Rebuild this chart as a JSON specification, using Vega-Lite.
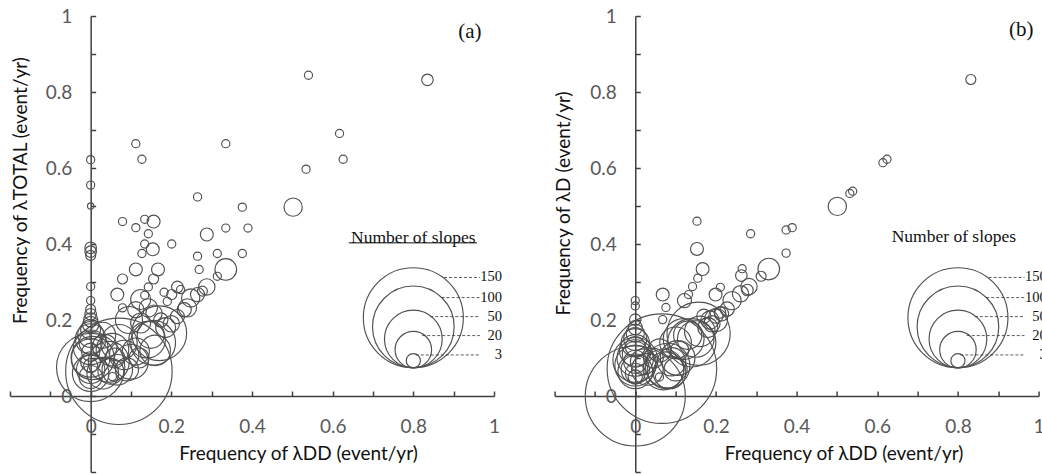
{
"$schema": "https://vega.github.io/schema/vega-lite/v6.json",
"autosize": {"type": "pad"},
"padding": {"left": 9, "top": 7, "right": 0, "bottom": 0},
"config": {"view": {"stroke": null}, "axis": {"grid": false, "domainColor": "#404040", "domainWidth": 1.5, "tickColor": "#404040", "tickWidth": 1.5, "labelFont": "Lato", "labelFontSize": 19, "labelColor": "#595959", "titleFont": "Lato", "titleFontSize": 19, "titleFontWeight": "normal", "titleColor": "#111111"}},
"datasets": {
"a": [
{"x":0.835,"y":0.832,"n":2},{"x":0.54,"y":0.844,"n":1},{"x":0.617,"y":0.691,"n":1},{"x":0.626,"y":0.623,"n":1},{"x":0.534,"y":0.597,"n":1},{"x":0.335,"y":0.664,"n":1},{"x":0.112,"y":0.664,"n":1},{"x":0.127,"y":0.623,"n":1},{"x":0.265,"y":0.524,"n":1},{"x":0.502,"y":0.497,"n":5},{"x":0.376,"y":0.497,"n":1},{"x":0.079,"y":0.459,"n":1},{"x":0.156,"y":0.459,"n":2.5},{"x":0.112,"y":0.443,"n":1},{"x":0.134,"y":0.465,"n":1},{"x":0.143,"y":0.427,"n":1},{"x":0.288,"y":0.425,"n":2.5},{"x":0.335,"y":0.442,"n":1},{"x":0.39,"y":0.442,"n":1},{"x":0.134,"y":0.4,"n":1},{"x":0.201,"y":0.4,"n":1},{"x":0.127,"y":0.375,"n":1},{"x":0.154,"y":0.386,"n":2.5},{"x":0.265,"y":0.368,"n":1},{"x":0.314,"y":0.375,"n":1},{"x":0.376,"y":0.375,"n":1},{"x":0.269,"y":0.333,"n":1},{"x":0.335,"y":0.333,"n":7},{"x":0.314,"y":0.315,"n":1},{"x":0.112,"y":0.333,"n":2.5},{"x":0.167,"y":0.333,"n":2.5},{"x":0.079,"y":0.308,"n":1.5},{"x":0.156,"y":0.308,"n":1.5},{"x":0.066,"y":0.267,"n":2.5},{"x":0.143,"y":0.287,"n":1},{"x":0.134,"y":0.265,"n":1},{"x":0.182,"y":0.273,"n":1},{"x":0.201,"y":0.267,"n":1.5},{"x":0.215,"y":0.287,"n":2},{"x":0.223,"y":0.28,"n":1},{"x":0.265,"y":0.267,"n":3},{"x":0.277,"y":0.276,"n":1.5},{"x":0.288,"y":0.287,"n":4},{"x":0.248,"y":0.258,"n":5},{"x":0.232,"y":0.227,"n":3},{"x":0.215,"y":0.209,"n":3},{"x":0.079,"y":0.232,"n":1},{"x":0.112,"y":0.227,"n":4},{"x":0.143,"y":0.232,"n":5},{"x":0.19,"y":0.249,"n":1},{"x":0.174,"y":0.2,"n":3},{"x":0.124,"y":0.254,"n":6},{"x":0.24,"y":0.232,"n":5},{"x":0.2,"y":0.19,"n":4},{"x":0.186,"y":0.18,"n":6},{"x":0.157,"y":0.218,"n":4},
{"x":0,"y":0.622,"n":1},{"x":0,"y":0.555,"n":1},{"x":0,"y":0.5,"n":0.6},{"x":0,"y":0.39,"n":2},{"x":0,"y":0.38,"n":2},{"x":0,"y":0.37,"n":1.5},{"x":0,"y":0.288,"n":1},{"x":0,"y":0.251,"n":1},{"x":0,"y":0.228,"n":1.5},{"x":0,"y":0.215,"n":2},{"x":0,"y":0.2,"n":3},{"x":0,"y":0.188,"n":4},{"x":0,"y":0.175,"n":6},{"x":0,"y":0.162,"n":10},{"x":0,"y":0.15,"n":14},{"x":0,"y":0.14,"n":8},{"x":0,"y":0.128,"n":18},{"x":0,"y":0.115,"n":5},{"x":0,"y":0.1,"n":22},{"x":0,"y":0.09,"n":6},{"x":0,"y":0.08,"n":3},{"x":0,"y":0.07,"n":12},{"x":0,"y":0.06,"n":20},{"x":0,"y":0.05,"n":8},{"x":0,"y":0.075,"n":70},{"x":0.005,"y":0.1,"n":28},
{"x":0.054,"y":0.122,"n":16},{"x":0.083,"y":0.108,"n":13},{"x":0.066,"y":0.069,"n":14},{"x":0.112,"y":0.117,"n":11},{"x":0.14,"y":0.148,"n":20},{"x":0.149,"y":0.161,"n":11},{"x":0.095,"y":0.2,"n":11},{"x":0.124,"y":0.192,"n":6},{"x":0.07,"y":0.14,"n":20},{"x":0.05,"y":0.065,"n":10},{"x":0.09,"y":0.07,"n":8},{"x":0.1,"y":0.09,"n":18},{"x":0.12,"y":0.1,"n":6},{"x":0.06,"y":0.1,"n":6},{"x":0.03,"y":0.06,"n":15},{"x":0.035,"y":0.13,"n":9},{"x":0.155,"y":0.14,"n":30},{"x":0.17,"y":0.165,"n":45},{"x":0.07,"y":0.065,"n":170},{"x":0.054,"y":0.051,"n":1},{"x":0.16,"y":0.12,"n":14},{"x":0.03,"y":0.16,"n":10},{"x":0.045,"y":0.09,"n":25}
],
"b": [
{"x":0.832,"y":0.833,"n":1.5},{"x":0.614,"y":0.614,"n":1},{"x":0.624,"y":0.623,"n":1},{"x":0.532,"y":0.533,"n":1},{"x":0.539,"y":0.539,"n":1},{"x":0.501,"y":0.499,"n":5},{"x":0.374,"y":0.437,"n":1},{"x":0.389,"y":0.443,"n":1},{"x":0.286,"y":0.427,"n":1},{"x":0.374,"y":0.376,"n":1},{"x":0.331,"y":0.334,"n":7},{"x":0.312,"y":0.315,"n":1.5},{"x":0.265,"y":0.335,"n":1},{"x":0.263,"y":0.317,"n":2},{"x":0.282,"y":0.288,"n":4},{"x":0.278,"y":0.279,"n":2},{"x":0.261,"y":0.269,"n":4},{"x":0.24,"y":0.251,"n":5},{"x":0.228,"y":0.229,"n":3},{"x":0.214,"y":0.216,"n":3},{"x":0.211,"y":0.286,"n":1},{"x":0.199,"y":0.267,"n":2.5},{"x":0.153,"y":0.46,"n":1},{"x":0.153,"y":0.387,"n":2.5},{"x":0.167,"y":0.334,"n":2.5},{"x":0.155,"y":0.31,"n":1},{"x":0.142,"y":0.288,"n":1},{"x":0.132,"y":0.267,"n":1},{"x":0.122,"y":0.251,"n":3},{"x":0.068,"y":0.267,"n":2.5},{"x":0.076,"y":0.233,"n":1},{"x":0.068,"y":0.201,"n":1},
{"x":0,"y":0.251,"n":1},{"x":0,"y":0.237,"n":1},{"x":0,"y":0.201,"n":2},{"x":0,"y":0.18,"n":3},{"x":0,"y":0.165,"n":5},{"x":0,"y":0.15,"n":8},{"x":0,"y":0.14,"n":12},{"x":0,"y":0.13,"n":6},{"x":0,"y":0.12,"n":15},{"x":0,"y":0.11,"n":10},{"x":0,"y":0.1,"n":20},{"x":0,"y":0.09,"n":8},{"x":0,"y":0.08,"n":25},{"x":0,"y":0.07,"n":12},{"x":0,"y":0.06,"n":6},{"x":0,"y":0.05,"n":3},{"x":0,"y":0.065,"n":18},{"x":0,"y":0.095,"n":30},
{"x":0,"y":0,"n":150},{"x":0.066,"y":0.072,"n":180},{"x":0.157,"y":0.164,"n":60},{"x":0.06,"y":0.12,"n":8},{"x":0.1,"y":0.14,"n":15},{"x":0.12,"y":0.15,"n":25},{"x":0.14,"y":0.14,"n":35},{"x":0.15,"y":0.15,"n":20},{"x":0.18,"y":0.18,"n":6},{"x":0.19,"y":0.19,"n":4},{"x":0.08,"y":0.08,"n":30},{"x":0.07,"y":0.07,"n":25},{"x":0.09,"y":0.09,"n":12},{"x":0.1,"y":0.07,"n":8},{"x":0.03,"y":0.07,"n":15},{"x":0.02,"y":0.09,"n":10},{"x":0.06,"y":0.05,"n":1},{"x":0.2,"y":0.21,"n":3},{"x":0.185,"y":0.2,"n":5},{"x":0.17,"y":0.21,"n":3},
{"x":0.075,"y":0.068,"n":20},{"x":0.085,"y":0.062,"n":16},{"x":0.105,"y":0.1,"n":18},{"x":0.13,"y":0.16,"n":12},{"x":0.16,"y":0.17,"n":14},{"x":0.2,"y":0.2,"n":8},{"x":0.21,"y":0.22,"n":2},{"x":0.045,"y":0.1,"n":6},{"x":0.11,"y":0.12,"n":5}
],
"leg": [{"x":0.8,"y":0.206,"n":150},{"x":0.8,"y":0.182,"n":100},{"x":0.8,"y":0.15,"n":50},{"x":0.8,"y":0.122,"n":20},{"x":0.8,"y":0.093,"n":3}],
"legline": [{"x":0.876,"x2":0.965,"y":0.312},{"x":0.87,"x2":0.965,"y":0.259},{"x":0.842,"x2":0.965,"y":0.209},{"x":0.822,"x2":0.965,"y":0.159},{"x":0.806,"x2":0.965,"y":0.108}],
"legtext": [{"x":1.02,"y":0.312,"t":"150"},{"x":1.02,"y":0.259,"t":"100"},{"x":1.02,"y":0.209,"t":"50"},{"x":1.02,"y":0.159,"t":"20"},{"x":1.02,"y":0.108,"t":"3"}]
},
"spacing": 60.6,
"bounds": "flush",
"hconcat": [
{
"width": 484, "height": 456,
"encoding": {
  "x": {"field": "x", "type": "quantitative", "scale": {"domain": [-0.2, 1], "nice": false, "zero": false},
   "axis": {"title": "Frequency of λDD (event/yr)", "offset": -76, "values": [-0.2,-0.1,0,0.1,0.2,0.3,0.4,0.5,0.6,0.7,0.8,0.9,1], "format": "~g", "labelExpr": "datum.value < 0 || round(datum.value*10) % 2 != 0 ? '' : datum.label", "tickSize": -5, "labelPadding": 26, "labelFlush": false, "labelOverlap": false, "titleX": 288, "titleY": 57, "titleBaseline": "middle"}},
  "y": {"field": "y", "type": "quantitative", "scale": {"domain": [-0.2, 1], "nice": false, "zero": false},
   "axis": {"title": "Frequency of λTOTAL (event/yr)", "offset": -80.67, "values": [-0.2,-0.1,0,0.1,0.2,0.3,0.4,0.5,0.6,0.7,0.8,0.9,1], "format": "~g", "labelExpr": "datum.value < 0 || round(datum.value*10) % 2 != 0 ? '' : datum.label", "tickSize": -5, "labelPadding": 24, "labelOverlap": false, "labelFlush": false, "titleX": -70, "titleY": 174, "titleBaseline": "middle"}}
},
"layer": [
{"data": {"name": "a"}, "mark": {"type": "point", "shape": "circle", "filled": false, "color": "#505050", "strokeWidth": 1.15, "opacity": 1},
 "encoding": {"size": {"field": "n", "type": "quantitative", "scale": {"type": "linear", "domain": [0, 150], "range": [0, 10000]}, "legend": null}}},
{"data": {"name": "leg"}, "mark": {"type": "point", "shape": "circle", "filled": false, "color": "#505050", "strokeWidth": 1.15, "opacity": 1},
 "encoding": {"size": {"field": "n", "type": "quantitative", "scale": {"type": "linear", "domain": [0, 150], "range": [0, 10000]}, "legend": null}}},
{"data": {"name": "legline"}, "mark": {"type": "rule", "strokeDash": [3, 2], "color": "#333333", "strokeWidth": 0.8},
 "encoding": {"x2": {"field": "x2"}}},
{"data": {"name": "legtext"}, "mark": {"type": "text", "align": "right", "baseline": "middle", "font": "Liberation Serif", "fontSize": 14.5, "color": "#111111"},
 "encoding": {"text": {"field": "t"}}},
{"data": {"values": [{"x": 0.8, "y": 0.417, "t": "Number of slopes"}]}, "mark": {"type": "text", "align": "center", "baseline": "middle", "font": "Liberation Serif", "fontSize": 17.5, "color": "#111111"},
 "encoding": {"text": {"field": "t"}}},
{"data": {"values": [{"x": 0.94, "y": 0.959, "t": "(a)"}]}, "mark": {"type": "text", "align": "center", "baseline": "middle", "font": "Liberation Serif", "fontSize": 21, "color": "#111111"},
 "encoding": {"text": {"field": "t"}}},
{"data": {"values": [{"x": 0.64, "x2": 0.958, "y": 0.403}]}, "mark": {"type": "rule", "color": "#111111", "strokeWidth": 1},
 "encoding": {"x2": {"field": "x2"}}}
]
},
{
"width": 484, "height": 456,
"encoding": {
  "x": {"field": "x", "type": "quantitative", "scale": {"domain": [-0.2, 1], "nice": false, "zero": false},
   "axis": {"title": "Frequency of λDD (event/yr)", "offset": -76, "values": [-0.2,-0.1,0,0.1,0.2,0.3,0.4,0.5,0.6,0.7,0.8,0.9,1], "format": "~g", "labelExpr": "datum.value < 0 || round(datum.value*10) % 2 != 0 ? '' : datum.label", "tickSize": -5, "labelPadding": 26, "labelFlush": false, "labelOverlap": false, "titleX": 289, "titleY": 57, "titleBaseline": "middle"}},
  "y": {"field": "y", "type": "quantitative", "scale": {"domain": [-0.2, 1], "nice": false, "zero": false},
   "axis": {"title": "Frequency of λD (event/yr)", "offset": -80.67, "values": [-0.2,-0.1,0,0.1,0.2,0.3,0.4,0.5,0.6,0.7,0.8,0.9,1], "format": "~g", "labelExpr": "datum.value < 0 || round(datum.value*10) % 2 != 0 ? '' : datum.label", "tickSize": -5, "labelPadding": 24, "labelOverlap": false, "labelFlush": false, "titleX": -72, "titleY": 187, "titleBaseline": "middle"}}
},
"layer": [
{"data": {"name": "b"}, "mark": {"type": "point", "shape": "circle", "filled": false, "color": "#505050", "strokeWidth": 1.15, "opacity": 1},
 "encoding": {"size": {"field": "n", "type": "quantitative", "scale": {"type": "linear", "domain": [0, 150], "range": [0, 10000]}, "legend": null}}},
{"data": {"name": "leg"}, "mark": {"type": "point", "shape": "circle", "filled": false, "color": "#505050", "strokeWidth": 1.15, "opacity": 1},
 "encoding": {"size": {"field": "n", "type": "quantitative", "scale": {"type": "linear", "domain": [0, 150], "range": [0, 10000]}, "legend": null}}},
{"data": {"name": "legline"}, "mark": {"type": "rule", "strokeDash": [3, 2], "color": "#333333", "strokeWidth": 0.8},
 "encoding": {"x2": {"field": "x2"}}},
{"data": {"name": "legtext"}, "mark": {"type": "text", "align": "right", "baseline": "middle", "font": "Liberation Serif", "fontSize": 14.5, "color": "#111111"},
 "encoding": {"text": {"field": "t"}}},
{"data": {"values": [{"x": 0.79, "y": 0.419, "t": "Number of slopes"}]}, "mark": {"type": "text", "align": "center", "baseline": "middle", "font": "Liberation Serif", "fontSize": 17.5, "color": "#111111"},
 "encoding": {"text": {"field": "t"}}},
{"data": {"values": [{"x": 0.957, "y": 0.964, "t": "(b)"}]}, "mark": {"type": "text", "align": "center", "baseline": "middle", "font": "Liberation Serif", "fontSize": 21, "color": "#111111"},
 "encoding": {"text": {"field": "t"}}}
]
}
]
}
